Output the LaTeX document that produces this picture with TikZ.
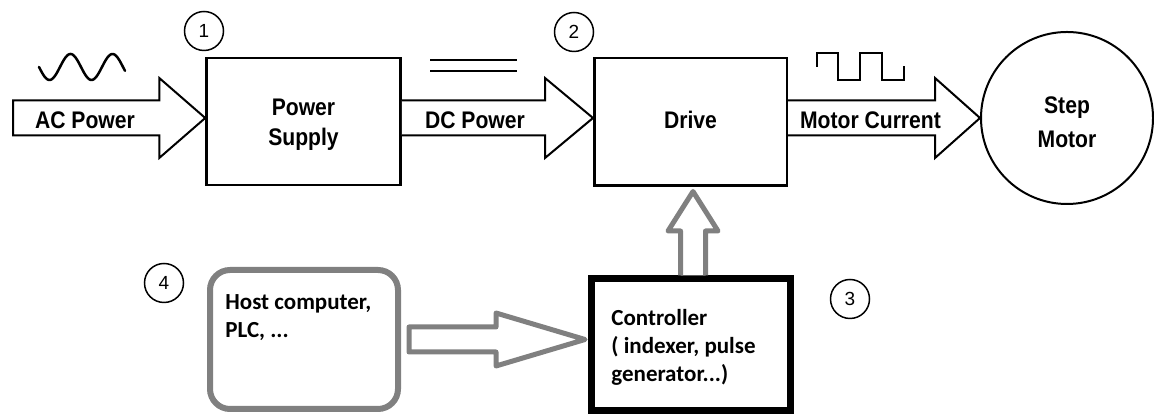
\documentclass[tikz,border=0pt]{standalone}
\usepackage{fontspec}
\newfontfamily\labfont[FakeStretch=0.88]{Liberation Sans}
\newfontfamily\calfont{Carlito}
\newfontfamily\numfont{Liberation Sans}
\usetikzlibrary{calc}
\definecolor{hostgray}{RGB}{128,128,128}

\begin{document}
\begin{tikzpicture}[x=0.5pt,y=0.5pt,
  box/.style={draw=black, line width=1.25pt, inner sep=0pt, align=center},
  barrow/.style={draw=black, line width=1pt, fill=white, line join=miter},
  garrow/.style={draw=hostgray, line width=2.5pt, line join=round, fill=white},
  tag/.style={circle, draw=black, line width=0.75pt, minimum size=19.5pt,
    inner sep=0pt, font=\numfont\fontsize{9.5}{10}\selectfont},
  flow/.style={font=\labfont\bfseries\fontsize{12}{15}\selectfont, inner sep=0pt,
    align=center},
  note/.style={font=\calfont\bfseries\fontsize{11.5}{14}\selectfont, align=left,
    inner sep=0pt, anchor=north west},
  wave/.style={line width=1.25pt, line join=miter}
]
\useasboundingbox (0,0) rectangle (1154,415);

% main power chain
\node[box, minimum width=97pt, minimum height=63.5pt] (psu) at (303.5,293.5) {};
\node[box, minimum width=96.25pt, minimum height=63.75pt] (drive) at (690.5,293) {};
\node[box, circle, line width=1pt, minimum size=86pt] (motor) at (1067,297) {};

% control side
\node[draw=black, line width=3.5pt, minimum width=99.5pt, minimum height=66pt,
  inner sep=0pt] (ctrl) at (690.5,70) {};
\node[draw=hostgray, line width=3pt, rounded corners=10pt, minimum width=94pt,
  minimum height=69.5pt, inner sep=0pt] (host) at (304,75.5) {};

% numbered tags
\node[tag] (n1) at (204,384) {1};
\node[tag] (n2) at (574,383) {2};
\node[tag] (n3) at (850,116) {3};
\node[tag] (n4) at (164,132) {4};

% free end of the AC input
\coordinate (acin) at (13,297);

% AC power arrow
\draw[barrow] let \p1=(acin), \p2=(acin -| psu.west) in
  (\x1,\y1+8.75pt) -- (\x2-23pt,\y1+8.75pt) -- (\x2-23pt,\y1+20pt) -- (\x2,\y1)
  -- (\x2-23pt,\y1-20pt) -- (\x2-23pt,\y1-8.75pt) -- (\x1,\y1-8.75pt) -- cycle;
% DC power arrow
\draw[barrow] let \p1=(acin -| psu.east), \p2=(acin -| drive.west) in
  (\x1,\y1+8.75pt) -- (\x2-24pt,\y1+8.75pt) -- (\x2-24pt,\y1+20pt) -- (\x2,\y1)
  -- (\x2-24pt,\y1-20pt) -- (\x2-24pt,\y1-8.75pt) -- (\x1,\y1-8.75pt);
% motor current arrow
\draw[barrow] let \p1=(acin -| drive.east), \p2=(motor.west) in
  (\x1,\y1+8.75pt) -- (\x2-22.5pt,\y1+8.75pt) -- (\x2-22.5pt,\y1+20pt) -- (\x2,\y1)
  -- (\x2-22.5pt,\y1-20pt) -- (\x2-22.5pt,\y1-8.75pt) -- (\x1,\y1-8.75pt);

% host -> controller arrow
\draw[garrow] let \p1=($(host.east)+(8,0)$), \p2=($(host.east -| ctrl.west)+(-2.5,0)$) in
  (\x1,\y1+6.25pt) -- (\x2-44.5pt,\y1+6.25pt) -- (\x2-44.5pt,\y1+13.25pt) -- (\x2,\y1)
  -- (\x2-44.5pt,\y1-13.25pt) -- (\x2-44.5pt,\y1-6.25pt) -- (\x1,\y1-6.25pt) -- cycle;
% controller -> drive arrow
\draw[garrow] let \p1=($(ctrl.north)+(2.5,0)$), \p2=($(drive.south)+(0,-4.5)$) in
  (\x1-6.25pt,\y1) -- (\x1-6.25pt,\y2-19.75pt) -- (\x1-12.5pt,\y2-19.75pt) -- (\x1,\y2)
  -- (\x1+12.5pt,\y2-19.75pt) -- (\x1+6.25pt,\y2-19.75pt) -- (\x1+6.25pt,\y1);

% block and arrow labels
\node[flow] (psutxt) at ($(psu)+(0,-3)$) {Power\\Supply};
\node[flow] (drivetxt) at ($(drive)+(0,2)$) {Drive};
\node[flow, font=\labfont\bfseries\fontsize{12}{17}\selectfont] (motortxt)
  at ($(motor)+(0,-4)$) {Step\\Motor};
\node[flow] (aclab) at (85,295) {AC Power};
\node[flow] (dclab) at (475,295) {DC Power};
\node[flow] (mclab) at (870.5,295) {Motor Current};

% box texts
\node[note] (hosttxt) at (225,121) {Host computer,\\PLC, ...};
\node[note] (ctrltxt) at (611,106) {Controller\\( indexer, pulse\\generator...)};

% waveform symbols
\draw[wave, line cap=round, domain=0:86, samples=80, smooth]
  plot ({39+\x}, {348 - 13*sin(8.5714*\x)});
\draw[wave] (430,355) -- (517,355) (430,344) -- (517,344);
\draw[wave] (817,348) -- (817,362) -- (838,362) -- (838,335) -- (860,335) -- (860,362)
  -- (882,362) -- (882,335) -- (904,335) -- (904,349);
\end{tikzpicture}
\end{document}
